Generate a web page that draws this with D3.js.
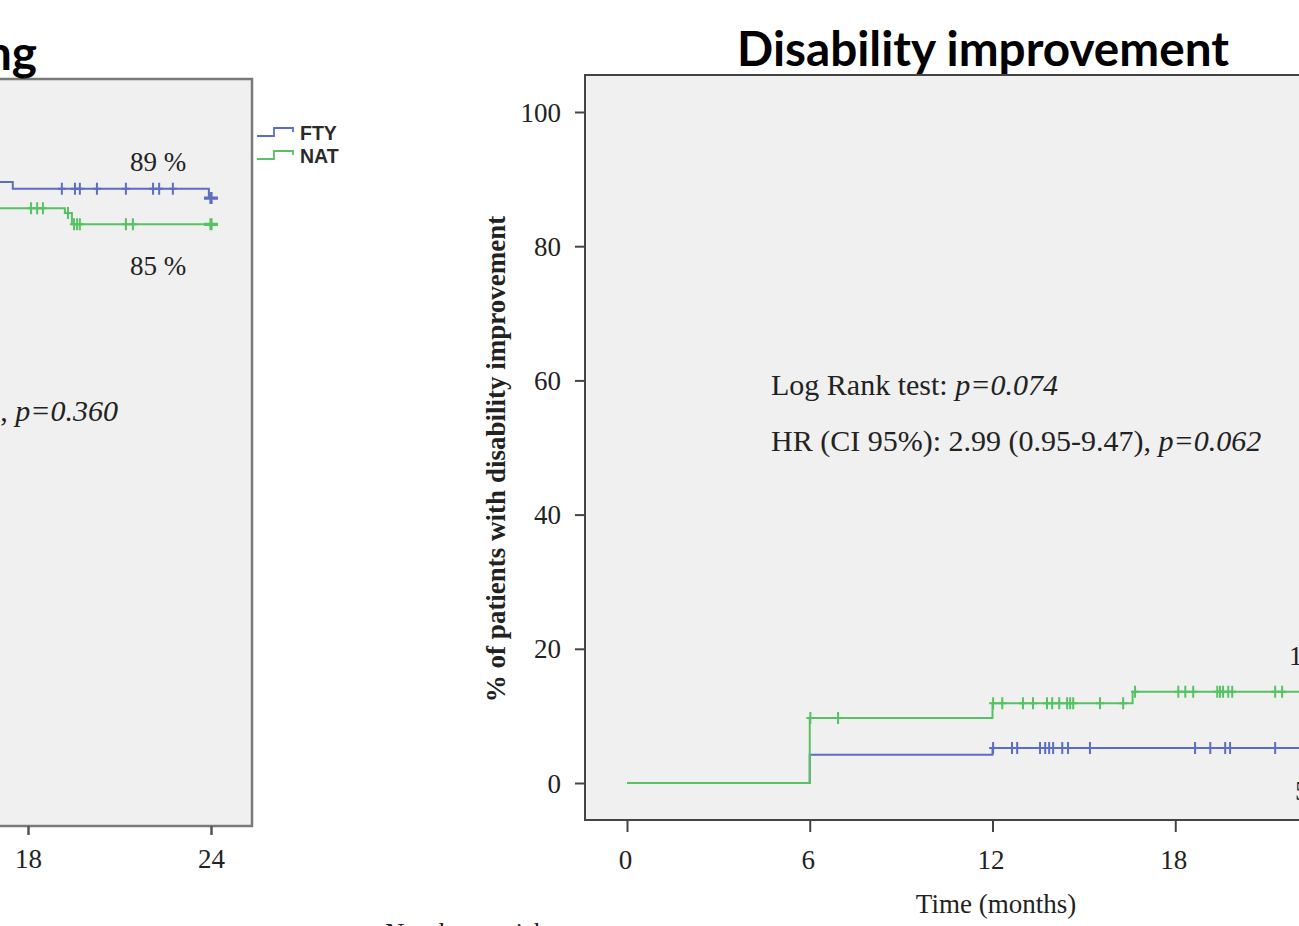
<!DOCTYPE html>
<html><head><meta charset="utf-8">
<script src="https://cdn.jsdelivr.net/npm/d3@7"></script>
<style>body{margin:0;background:#fff;overflow:hidden}svg{display:block}</style>
</head><body>
<svg id="c" width="1299" height="926"></svg>
<script>
// ---------- data ----------
const xTicks = [0, 6, 12, 18, 24];
const yTicks = [0, 20, 40, 60, 80, 100];
const seriesNames = ["FTY", "NAT"];

// Left panel (disability worsening, % free) – visible part only (months, %)
const worsFtyTimes  = [17, 17.5, 23.93];
const worsFtyValues = [90.2, 89.2, 87.8];
const worsFtyCensor = [19.11, 19.54, 19.70, 20.26, 21.21, 22.10, 22.30, 22.75];
const worsNatTimes  = [17, 19.21, 19.44];
const worsNatValues = [86.3, 85.6, 83.9];
const worsNatCensor = [18.10, 18.30, 18.49, 19.31, 19.51, 19.61, 19.70, 21.21, 21.44];
const worsEndCensor = [24];
const worsLabels = ["89 %", "85 %"];
const worsStat = "p=0.360";

// Right panel (disability improvement, cumulative %)
const impFtyTimes  = [0, 6, 12];
const impFtyValues = [0, 4.2, 5.2];
const impFtyCensor = [12.02, 12.64, 12.81, 13.56, 13.73, 13.86, 13.99, 14.29, 14.48, 15.20,
                      18.65, 19.15, 19.64, 19.80, 21.28];
const impNatTimes  = [0, 6, 12, 16.6];
const impNatValues = [0, 9.7, 11.9, 13.6];
const impNatCensor = [6.02, 6.93, 12.02, 12.32, 13.00, 13.33, 13.79, 13.96, 14.19, 14.45, 14.55,
                      14.65, 15.53, 16.29, 16.68, 18.10, 18.33, 18.59, 19.38, 19.47, 19.57,
                      19.74, 19.87, 21.28, 21.51];
const impLabels = ["13 %", "5 %"];
const endTime = 24;

// ---------- styles ----------
const BLUE = "#5b6ec4", GREEN = "#56c263";
const SERIF = "Liberation Serif, Times New Roman, serif";
const SANS = "Liberation Sans, Arial, sans-serif";
const PANEL_BG = "#f0f0f0";

const svg = d3.select("#c");

function valueAt(times, values, t) {
  let v = values[0];
  for (let i = 0; i < times.length; i++) if (times[i] <= t) v = values[i];
  return v;
}
function stepPts(times, values, end) {
  const p = times.map((t, i) => [t, values[i]]);
  p.push([end, values[values.length - 1]]);
  return p;
}
function drawCurve(g, x, y, times, values, censor, color) {
  const line = d3.line().curve(d3.curveStepAfter).x(d => x(d[0])).y(d => y(d[1]));
  g.append("path").attr("d", line(stepPts(times, values, endTime)))
    .attr("fill", "none").attr("stroke", color).attr("stroke-width", 2);
  g.selectAll(null).data(censor).enter().append("path")
    .attr("d", t => {
      const cx = x(t), cy = y(valueAt(times, values, t));
      return `M${cx},${cy - 6}V${cy + 6}M${cx - 4},${cy}H${cx + 4}`;
    })
    .attr("stroke", color).attr("stroke-width", 2).attr("fill", "none");
}

// ---------- LEFT PANEL ----------
const xL = d3.scaleLinear().domain([0, 24]).range([-521, 211]);
const yL = d3.scaleLinear().domain([0, 100]).range([789, 116]);
const gL = svg.append("g");
gL.append("rect").attr("x", xL(0) - 42).attr("y", 79)
  .attr("width", 252 - (xL(0) - 42)).attr("height", 826 - 79)
  .attr("fill", PANEL_BG).attr("stroke", "#7a7a7a").attr("stroke-width", 2.5);

drawCurve(gL, xL, yL, worsNatTimes, worsNatValues, worsNatCensor, GREEN);
drawCurve(gL, xL, yL, worsFtyTimes, worsFtyValues, worsFtyCensor, BLUE);
// end-of-follow-up censor marks (bold)
[[worsFtyTimes, worsFtyValues, BLUE], [worsNatTimes, worsNatValues, GREEN]].forEach(([t, v, c]) => {
  gL.selectAll(null).data(worsEndCensor).enter().append("path")
    .attr("d", d => {
      const cx = xL(d), cy = yL(valueAt(t, v, d));
      return `M${cx},${cy - 6}V${cy + 6}M${cx - 7},${cy}H${cx + 7}`;
    })
    .attr("stroke", c).attr("stroke-width", 3.2).attr("fill", "none");
});

// only the ticks that fall inside the visible crop are drawn
const visibleLeftTicks = xTicks.filter(t => xL(t) >= 0);
const axL = gL.append("g").attr("transform", "translate(0,826)")
  .call(d3.axisBottom(xL).tickValues(visibleLeftTicks).tickSize(9).tickSizeOuter(0));
axL.select(".domain").remove();
axL.selectAll("line").attr("stroke", "#555").attr("stroke-width", 2.5);
axL.selectAll("text").attr("y", 42).attr("dy", 0).attr("font-family", SERIF)
  .attr("font-size", 27).attr("fill", "#222");

gL.append("text").attr("x", 158).attr("y", 171).attr("text-anchor", "middle")
  .attr("font-family", SERIF).attr("font-size", 27).attr("fill", "#222").text(worsLabels[0]);
gL.append("text").attr("x", 158).attr("y", 275).attr("text-anchor", "middle")
  .attr("font-family", SERIF).attr("font-size", 27).attr("fill", "#222").text(worsLabels[1]);
const st = gL.append("text").attr("x", 118).attr("y", 421).attr("text-anchor", "end")
  .attr("font-family", SERIF).attr("font-size", 30).attr("fill", "#222");
st.append("tspan").text(", ");
st.append("tspan").attr("font-style", "italic").text(worsStat);

// legend
const legY = [136, 159];
seriesNames.forEach((n, i) => {
  const y0 = legY[i];
  svg.append("path").attr("d", `M257,${y0}H274V${y0 - 8}H293V${y0 - 4}`)
    .attr("fill", "none").attr("stroke", i === 0 ? BLUE : GREEN).attr("stroke-width", 1.8);
  svg.append("text").attr("x", 300).attr("y", y0 + 4).attr("font-family", SANS)
    .attr("font-size", 19.5).attr("font-weight", 600).attr("fill", "#2a2a2a").text(n);
});

// ---------- RIGHT PANEL ----------
const xR = d3.scaleLinear().domain([0, 24]).range([627, 1358]);
const yR = d3.scaleLinear().domain([0, 100]).range([783, 112]);
const gR = svg.append("g");
gR.append("rect").attr("x", 585).attr("y", 75).attr("width", 1420 - 585).attr("height", 820 - 75)
  .attr("fill", PANEL_BG).attr("stroke", "#444").attr("stroke-width", 2);

drawCurve(gR, xR, yR, impFtyTimes, impFtyValues, impFtyCensor, BLUE);
drawCurve(gR, xR, yR, impNatTimes, impNatValues, impNatCensor, GREEN);

const ayR = gR.append("g").attr("transform", "translate(585,0)")
  .call(d3.axisLeft(yR).tickValues(yTicks).tickSize(10).tickPadding(14).tickSizeOuter(0));
ayR.select(".domain").remove();
ayR.selectAll("line").attr("stroke", "#444").attr("stroke-width", 2);
ayR.selectAll("text").attr("font-family", SERIF).attr("font-size", 27).attr("fill", "#222")
  .attr("dy", "0.34em");

const visibleRightTicks = xTicks.filter(t => xR(t) <= 1299);
const axR = gR.append("g").attr("transform", "translate(0,820)")
  .call(d3.axisBottom(xR).tickValues(visibleRightTicks).tickSize(12).tickSizeOuter(0));
axR.select(".domain").remove();
axR.selectAll("line").attr("stroke", "#444").attr("stroke-width", 2);
axR.selectAll("text").attr("y", 49).attr("dy", 0).attr("x", -2).attr("font-family", SERIF)
  .attr("font-size", 27).attr("fill", "#222");

gR.append("text").attr("x", 996).attr("y", 913).attr("text-anchor", "middle")
  .attr("font-family", SERIF).attr("font-size", 27).attr("fill", "#222").text("Time (months)");
gR.append("text").attr("transform", "translate(505,459) rotate(-90)").attr("text-anchor", "middle")
  .attr("font-family", SERIF).attr("font-weight", "bold").attr("font-size", 27).attr("fill", "#222")
  .text("% of patients with disability improvement");

const t1 = gR.append("text").attr("x", 771).attr("y", 395).attr("font-family", SERIF)
  .attr("font-size", 30).attr("fill", "#222");
t1.append("tspan").text("Log Rank test: ");
t1.append("tspan").attr("font-style", "italic").text("p=0.074");
const t2 = gR.append("text").attr("x", 771).attr("y", 451).attr("font-family", SERIF)
  .attr("font-size", 30).attr("fill", "#222");
t2.append("tspan").text("HR (CI 95%): 2.99 (0.95-9.47), ");
t2.append("tspan").attr("font-style", "italic").text("p=0.062");

gR.append("text").attr("x", 1289).attr("y", 665).attr("font-family", SERIF)
  .attr("font-size", 27).attr("fill", "#222").text(impLabels[0]);
gR.append("text").attr("x", 1295).attr("y", 800).attr("font-family", SERIF)
  .attr("font-size", 27).attr("fill", "#222").text(impLabels[1]);

// ---------- titles ----------
const TITLE_FONT = "Lato, 'Open Sans', sans-serif";
const titleR = svg.append("text").attr("x", 983).attr("y", 66).attr("text-anchor", "middle")
  .attr("font-family", TITLE_FONT).attr("font-weight", "bold").attr("font-size", 40)
  .attr("fill", "#000").text("Disability improvement");
const w = titleR.node().getComputedTextLength();
const fs = 40 * 492 / w;
titleR.attr("font-size", fs);
svg.append("text").attr("x", 37).attr("y", 70).attr("text-anchor", "end")
  .attr("font-family", TITLE_FONT).attr("font-weight", "bold").attr("font-size", fs)
  .attr("fill", "#000").text("Disability worsening");

// partially visible "Number at risk" caption at the bottom
svg.append("text").attr("x", 385).attr("y", 942).attr("font-family", SERIF)
  .attr("font-size", 27).attr("fill", "#222").text("Number at risk");
</script>
</body></html>
